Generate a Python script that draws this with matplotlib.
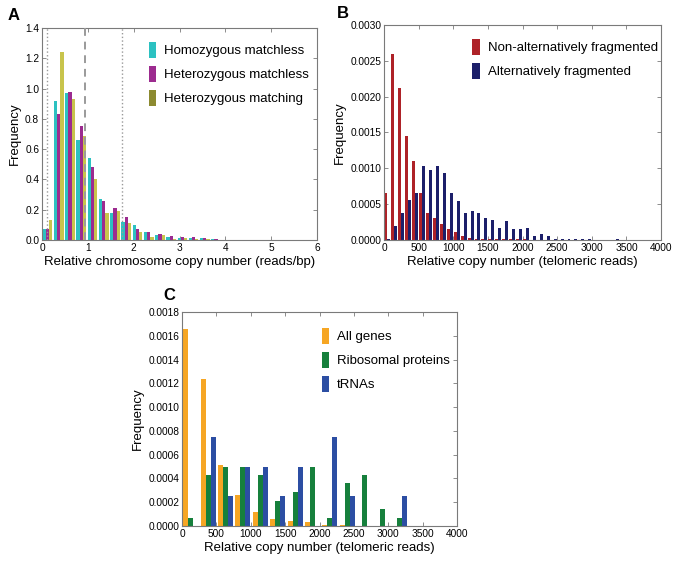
import matplotlib
matplotlib.use("Agg")
import matplotlib.pyplot as plt
from matplotlib.patches import Patch
import numpy as np

plt.rcParams['font.family'] = ['Liberation Sans', 'DejaVu Sans']

# ---- panel A : chromosome copy number (reads/bp), bin width ~0.245
a_bin_width = 0.245
a_labels = ['Homozygous matchless', 'Heterozygous matchless', 'Heterozygous matching']
a_homo_matchless = [0.07, 0.92, 0.97, 0.66, 0.54, 0.27, 0.18, 0.12, 0.10, 0.05, 0.03, 0.02,
                    0.01, 0.01, 0.012, 0.006, 0.002, 0.001, 0.0, 0.0, 0.0, 0.0, 0.0, 0.001]
a_hetero_matchless = [0.07, 0.83, 0.98, 0.75, 0.48, 0.26, 0.21, 0.15, 0.07, 0.05, 0.04, 0.025,
                      0.02, 0.02, 0.01, 0.006, 0.002, 0.001, 0.0, 0.0, 0.0, 0.0, 0.001, 0.0]
a_hetero_matching = [0.13, 1.24, 0.93, 0.69, 0.40, 0.18, 0.19, 0.11, 0.05, 0.02, 0.03, 0.005,
                     0.01, 0.005, 0.005, 0.002, 0.001, 0.0, 0.0, 0.0, 0.0, 0.001, 0.0, 0.003]
a_lines_dotted = [0.11, 1.75]
a_line_dashed = 0.93

# ---- panel B : telomeric reads, bin width 100
b_bin_width = 100
b_labels = ['Non-alternatively fragmented', 'Alternatively fragmented']
b_non_alt = [0.00065, 0.0026, 0.00212, 0.00145, 0.0011, 0.00065, 0.00038, 0.00031, 0.00022,
             0.00016, 0.00011, 0.00005, 0.00003, 0.00002, 0.00002, 0.00002, 0.00002, 0.00002,
             0.00001, 0.00001, 0.00001, 0.000005, 0.000005, 0.0, 0.0, 0.0, 0.0, 0.0, 0.0,
             0.0, 0.0, 0.0, 0.0, 0.0, 0.0, 0.0, 0.0, 0.0, 0.0, 0.0]
b_alt = [0.00002, 0.00019, 0.00038, 0.00056, 0.00066, 0.00103, 0.00098, 0.00103, 0.00093,
         0.00066, 0.00055, 0.00037, 0.0004, 0.00037, 0.00031, 0.00028, 0.00017, 0.00027,
         0.00016, 0.00015, 0.00017, 0.00006, 0.00009, 0.00006, 0.00001, 0.00001, 0.00001,
         0.00001, 0.00001, 0.00001, 0.0, 0.0, 0.0, 0.00001, 0.0, 0.0, 0.0, 0.0, 0.0, 0.0]

# ---- panel C : telomeric reads by gene class, bin width ~253
c_bin_width = 253
c_labels = ['All genes', 'Ribosomal proteins', 'tRNAs']
c_all = [0.00166, 0.00124, 0.00051, 0.00026, 0.00012, 0.00006, 0.00004, 0.00003,
         0.00001, 0.000006, 0.000004, 0.0, 0.0]
c_ribo = [0.00007, 0.00043, 0.00050, 0.00050, 0.00043, 0.00021, 0.00029, 0.00050,
          0.00007, 0.00036, 0.00043, 0.00014, 0.00007]
c_trna = [0.0, 0.00075, 0.00025, 0.00050, 0.00050, 0.00025, 0.00050, 0.0,
          0.00075, 0.00025, 0.0, 0.0, 0.00025]


def grouped_hist(ax, series, colors, bin_width, fill=0.86):
    n = len(series)
    w = bin_width * fill / n
    off = bin_width * (1 - fill) / 2
    for k, (vals, col) in enumerate(zip(series, colors)):
        edges = np.arange(len(vals)) * bin_width
        ax.bar(edges + off + k * w, vals, width=w, align='edge', color=col,
               linewidth=0, zorder=2)


def style(ax):
    for s in ax.spines.values():
        s.set_color('#7a7a7a')
        s.set_linewidth(0.8)
    ax.tick_params(direction='in', top=True, right=True, labelsize=7.3,
                   color='#7a7a7a', length=3, width=0.6, pad=2)


def legend(ax, labels, colors, anchor):
    handles = [Patch(facecolor=c, edgecolor='none') for c in colors]
    ax.legend(handles, labels, loc='upper left', bbox_to_anchor=anchor, frameon=False,
              fontsize=9.5, handlelength=0.55, handleheight=1.5, handletextpad=0.6,
              labelspacing=0.6, borderaxespad=0)


fig = plt.figure(figsize=(6.83, 5.63), dpi=100)
W, H = 683, 563


def add_axes(l, t, r, b):
    return fig.add_axes([l / W, 1 - b / H, (r - l) / W, (b - t) / H])


LABEL_FS = 9.5

# panel A
axA = add_axes(42, 28, 317, 240)
grouped_hist(axA, [a_homo_matchless, a_hetero_matchless, a_hetero_matching],
             ['#2cc1c1', '#9c2b8f', '#c8c44c'], a_bin_width)
for xv in a_lines_dotted:
    axA.axvline(xv, color='#9a9a9a', ls=':', lw=1.0, zorder=3)
axA.axvline(a_line_dashed, color='#9a9a9a', ls=(0, (4, 3)), lw=1.4, zorder=3)
axA.set_xlim(0, 6)
axA.set_ylim(0, 1.4)
axA.set_xticks(range(0, 7))
axA.set_yticks(np.arange(0, 1.41, 0.2))
axA.yaxis.set_major_formatter(matplotlib.ticker.FormatStrFormatter('%.1f'))
axA.set_xlabel('Relative chromosome copy number (reads/bp)', fontsize=LABEL_FS, labelpad=2)
axA.set_ylabel('Frequency', fontsize=LABEL_FS, labelpad=3)
style(axA)
legend(axA, a_labels, ['#2cc1c1', '#9c2b8f', '#8c8a30'], (0.37, 0.96))

# panel B
axB = add_axes(384, 25, 661, 240)
grouped_hist(axB, [b_non_alt, b_alt], ['#ae2228', '#1c1f6a'], b_bin_width)
axB.set_xlim(0, 4000)
axB.set_ylim(0, 0.003)
axB.set_xticks(range(0, 4001, 500))
axB.set_yticks(np.arange(0, 0.00301, 0.0005))
axB.yaxis.set_major_formatter(matplotlib.ticker.FormatStrFormatter('%.4f'))
axB.set_xlabel('Relative copy number (telomeric reads)', fontsize=LABEL_FS, labelpad=2)
axB.set_ylabel('Frequency', fontsize=LABEL_FS, labelpad=3)
style(axB)
legend(axB, b_labels, ['#ae2228', '#1c1f6a'], (0.30, 0.96))

# panel C
axC = add_axes(182, 312, 457, 526)
grouped_hist(axC, [c_all, c_ribo, c_trna], ['#f6a624', '#16803c', '#2c4ea3'], c_bin_width)
axC.set_xlim(0, 4000)
axC.set_ylim(0, 0.0018)
axC.set_xticks(range(0, 4001, 500))
axC.set_yticks(np.arange(0, 0.00181, 0.0002))
axC.yaxis.set_major_formatter(matplotlib.ticker.FormatStrFormatter('%.4f'))
axC.set_xlabel('Relative copy number (telomeric reads)', fontsize=LABEL_FS, labelpad=2)
axC.set_ylabel('Frequency', fontsize=LABEL_FS, labelpad=3)
style(axC)
legend(axC, c_labels, ['#f6a624', '#16803c', '#2c4ea3'], (0.49, 0.95))

# panel letters
fig.text(8 / W, 1 - 16 / H, 'A', fontsize=12, fontweight='bold', va='center')
fig.text(337 / W, 1 - 14 / H, 'B', fontsize=12, fontweight='bold', va='center')
fig.text(163 / W, 1 - 295 / H, 'C', fontsize=12, fontweight='bold', va='center')

fig.savefig('out.png', dpi=100)
